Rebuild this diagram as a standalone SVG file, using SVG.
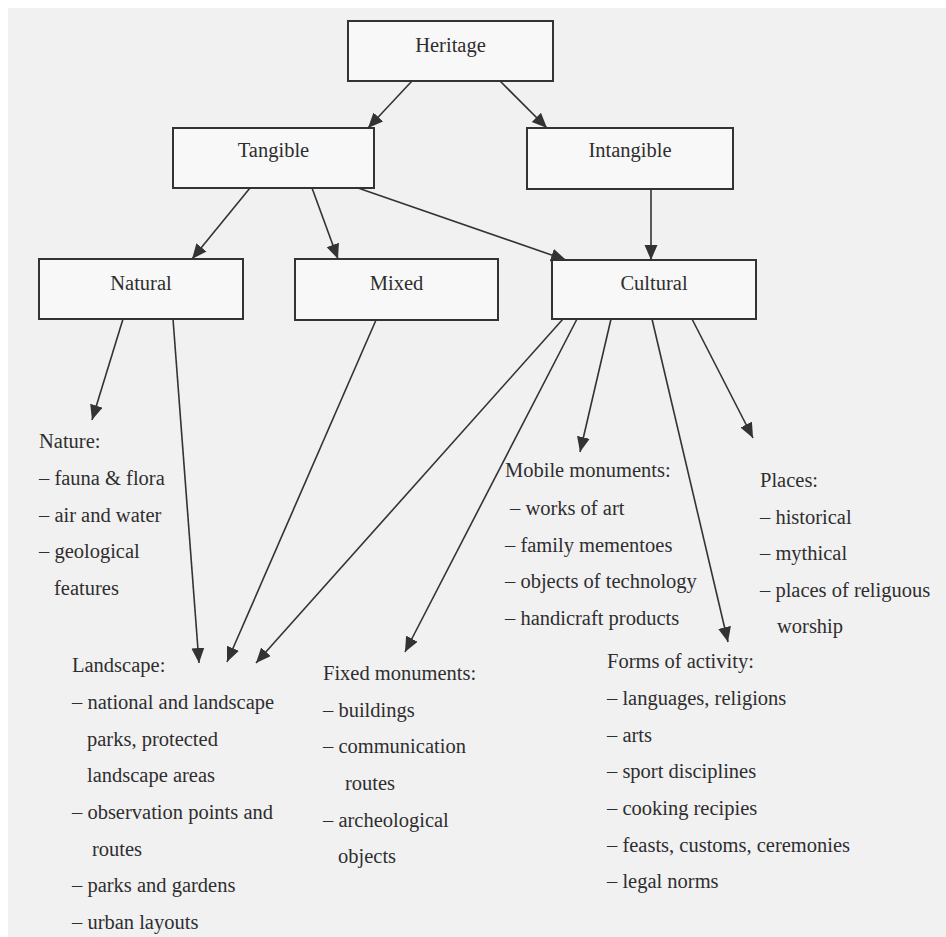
<svg xmlns="http://www.w3.org/2000/svg" width="946" height="937" viewBox="0 0 946 937">
  <style>
    .box rect { fill: #f8f8f8; stroke: #333; stroke-width: 2; }
    .box text { font-family: "Liberation Serif", "Times New Roman", serif; font-size: 20.5px; fill: #2e2e2e; text-anchor: middle; }
    .list text { font-family: "Liberation Serif", "Times New Roman", serif; font-size: 20.5px; fill: #2e2e2e; }
    #connectors line { stroke: #333; stroke-width: 1.6; fill: none; marker-end: url(#arrow); }
  </style>
  <defs>
    <marker id="arrow" markerUnits="userSpaceOnUse" markerWidth="16" markerHeight="14" refX="15" refY="6.5" orient="auto">
      <path d="M0,0 L15,6.5 L0,13 z" fill="#333"/>
    </marker>
  </defs>

  <!-- page -->
  <rect x="0" y="0" width="946" height="937" fill="#ffffff"/>
  <rect x="8" y="8" width="938" height="929" fill="#f2f1f2"/>

  <!-- boxed categories -->
  <g id="heritage" class="box">
    <rect x="348" y="21" width="205" height="60"/>
    <text x="450.5" y="52">Heritage</text>
  </g>
  <g id="tangible" class="box">
    <rect x="173" y="128" width="201" height="60"/>
    <text x="273.5" y="157">Tangible</text>
  </g>
  <g id="intangible" class="box">
    <rect x="527" y="128" width="206" height="61"/>
    <text x="630" y="157">Intangible</text>
  </g>
  <g id="natural" class="box">
    <rect x="39" y="259" width="204" height="60"/>
    <text x="141" y="290">Natural</text>
  </g>
  <g id="mixed" class="box">
    <rect x="295" y="259" width="203" height="61"/>
    <text x="396.5" y="290">Mixed</text>
  </g>
  <g id="cultural" class="box">
    <rect x="552" y="260" width="204" height="59"/>
    <text x="654" y="290">Cultural</text>
  </g>

  <!-- item lists -->
  <g id="nature" class="list">
    <text x="39" y="448">Nature:</text>
    <text x="39" y="485">– fauna &amp; flora</text>
    <text x="39" y="522">– air and water</text>
    <text x="39" y="558">– geological</text>
    <text x="54" y="595">features</text>
  </g>
  <g id="landscape" class="list">
    <text x="72" y="672">Landscape:</text>
    <text x="72" y="709">– national and landscape</text>
    <text x="87" y="746">parks, protected</text>
    <text x="87" y="782">landscape areas</text>
    <text x="72" y="819">– observation points and</text>
    <text x="92" y="856">routes</text>
    <text x="72" y="892">– parks and gardens</text>
    <text x="72" y="929">– urban layouts</text>
  </g>
  <g id="fixed-monuments" class="list">
    <text x="323" y="680">Fixed monuments:</text>
    <text x="323" y="717">– buildings</text>
    <text x="323" y="753">– communication</text>
    <text x="345" y="790">routes</text>
    <text x="323" y="827">– archeological</text>
    <text x="338" y="863">objects</text>
  </g>
  <g id="mobile-monuments" class="list">
    <text x="505" y="477">Mobile monuments:</text>
    <text x="510" y="515">– works of art</text>
    <text x="505" y="552">– family mementoes</text>
    <text x="505" y="588">– objects of technology</text>
    <text x="505" y="625">– handicraft products</text>
  </g>
  <g id="places" class="list">
    <text x="760" y="487">Places:</text>
    <text x="760" y="524">– historical</text>
    <text x="760" y="560">– mythical</text>
    <text x="760" y="597">– places of religuous</text>
    <text x="777" y="633">worship</text>
  </g>
  <g id="forms-of-activity" class="list">
    <text x="607" y="668">Forms of activity:</text>
    <text x="607" y="705">– languages, religions</text>
    <text x="607" y="742">– arts</text>
    <text x="607" y="778">– sport disciplines</text>
    <text x="607" y="815">– cooking recipies</text>
    <text x="607" y="852">– feasts, customs, ceremonies</text>
    <text x="607" y="888">– legal norms</text>
  </g>

  <!-- arrows -->
  <g id="connectors">
    <line x1="412" y1="81" x2="368" y2="128"/>
    <line x1="500" y1="81" x2="547" y2="128"/>
    <line x1="250" y1="188" x2="192" y2="259"/>
    <line x1="312" y1="188" x2="338" y2="259"/>
    <line x1="358" y1="188" x2="566" y2="260"/>
    <line x1="651" y1="189" x2="651" y2="260"/>
    <line x1="123" y1="319" x2="92" y2="420"/>
    <line x1="173" y1="319" x2="199" y2="663"/>
    <line x1="376" y1="320" x2="227" y2="662"/>
    <line x1="563" y1="319" x2="256" y2="663"/>
    <line x1="577" y1="319" x2="405" y2="652"/>
    <line x1="611" y1="319" x2="580" y2="452"/>
    <line x1="652" y1="319" x2="728" y2="642"/>
    <line x1="692" y1="319" x2="753" y2="438"/>
  </g>
</svg>
